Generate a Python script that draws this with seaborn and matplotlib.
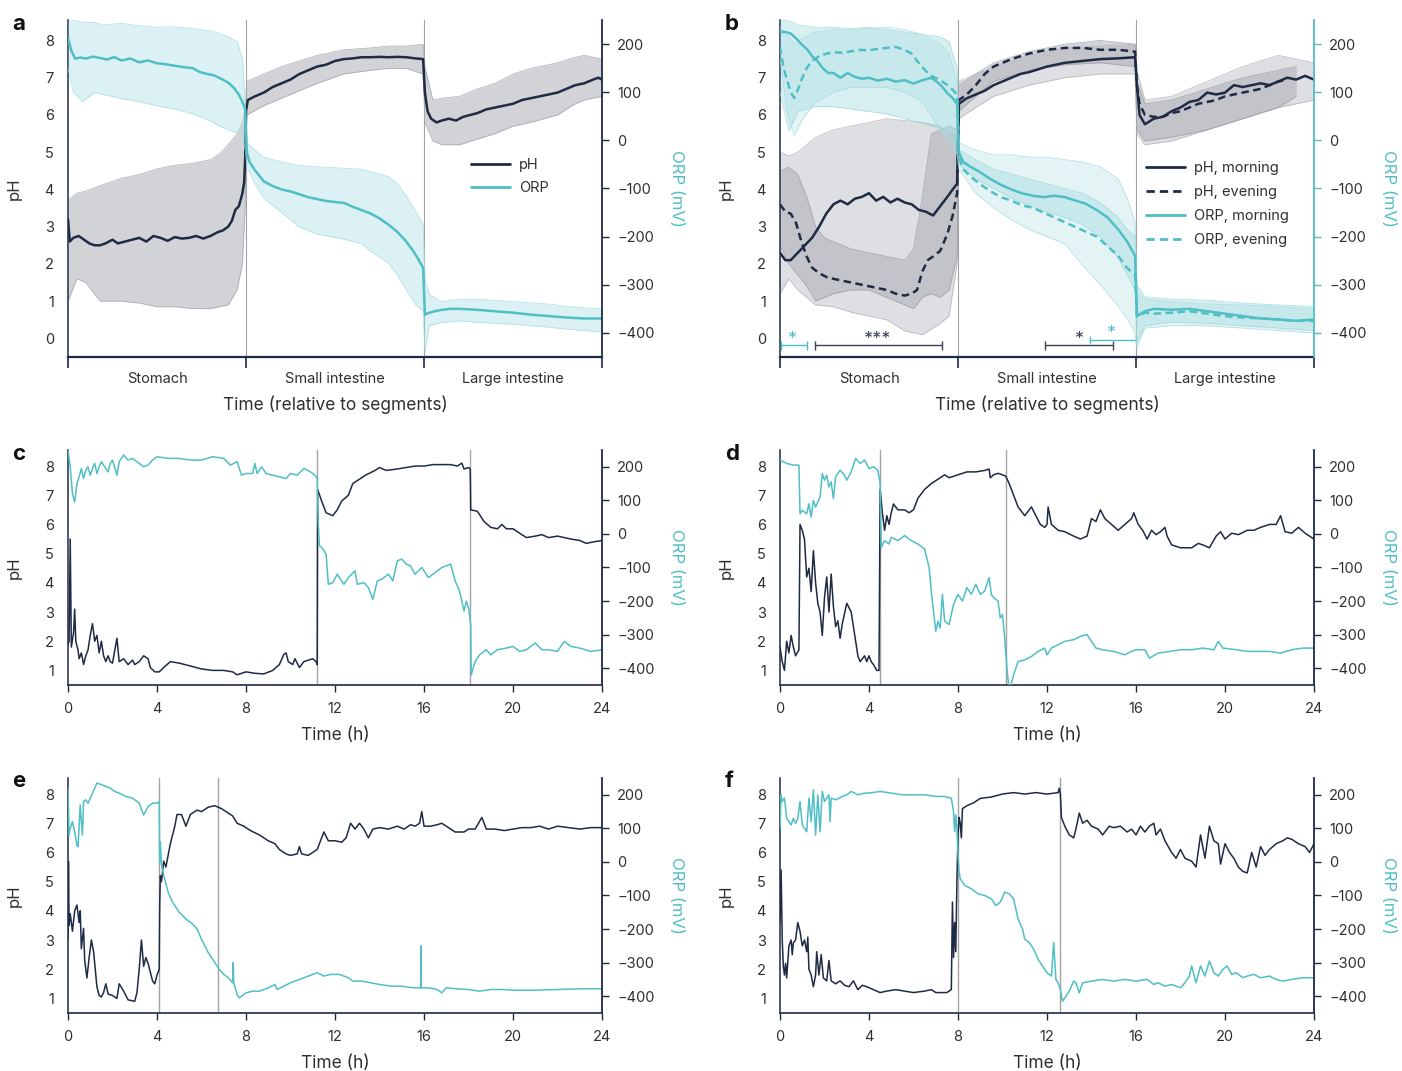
import matplotlib
matplotlib.use("Agg")
import matplotlib.pyplot as plt
import seaborn as sns
from matplotlib.lines import Line2D

sns.set_theme(style="white")
plt.rcParams["font.family"] = ["Inter", "DejaVu Sans"]

PH_C = "#1f2a44"
ORP_C = "#4fbfc5"
TXT = "#2f2f35"
SEP_C = "#a3a3a3"
DASH = (0, (3.0, 1.8))

SEGMENTS = ["Stomach", "Small intestine", "Large intestine"]
PANELS = ["a", "b", "c", "d", "e", "f"]

# ---------------- panel a ----------------
A_PH_X = [0, .01, .03, .06, .09, .12, .15, .18, .21, .25,
          .28, .32, .36, .40, .44, .48, .52, .56, .60, .64,
          .68, .72, .76, .80, .84, .87, .90, .92, .94, .96,
          .98, .99, .995, 1.0, 1.01, 1.05, 1.10, 1.15, 1.20, 1.25,
          1.30, 1.35, 1.40, 1.45, 1.50, 1.55, 1.60, 1.65, 1.70, 1.75,
          1.80, 1.85, 1.90, 1.95, 1.995, 2.005, 2.02, 2.04, 2.07, 2.10,
          2.14, 2.18, 2.22, 2.26, 2.30, 2.35, 2.40, 2.45, 2.50, 2.55,
          2.60, 2.65, 2.70, 2.75, 2.80, 2.85, 2.90, 2.95, 2.98, 3.0]
A_PH_Y = [3.2, 2.6, 2.7, 2.75, 2.65, 2.55, 2.5, 2.5, 2.55, 2.65,
          2.55, 2.6, 2.65, 2.7, 2.6, 2.75, 2.7, 2.62, 2.72, 2.68,
          2.7, 2.75, 2.68, 2.75, 2.85, 2.9, 3.0, 3.15, 3.45, 3.55,
          3.9, 4.2, 4.8, 6.1, 6.4, 6.5, 6.6, 6.75, 6.85, 6.95,
          7.1, 7.2, 7.3, 7.35, 7.45, 7.5, 7.52, 7.55, 7.55, 7.56,
          7.55, 7.56, 7.55, 7.52, 7.5, 6.6, 6.1, 5.9, 5.8, 5.85,
          5.9, 5.85, 5.95, 6.0, 6.05, 6.15, 6.2, 6.25, 6.3, 6.4,
          6.45, 6.5, 6.55, 6.6, 6.7, 6.8, 6.85, 6.95, 7.0, 6.95]
A_PHB_X = [0, .05, .10, .18, .30, .40, .50, .60, .70, .80,
           .85, .90, .95, .98, .995, 1.005, 1.10, 1.20, 1.30, 1.40,
           1.55, 1.70, 1.80, 1.90, 1.995, 2.005, 2.05, 2.10, 2.20, 2.30,
           2.40, 2.50, 2.60, 2.75, 2.85, 2.90, 3.0]
A_PHB_HI = [3.7, 3.9, 3.95, 4.1, 4.3, 4.4, 4.55, 4.65, 4.7, 4.8,
            4.95, 5.2, 5.5, 5.8, 6.2, 6.9, 7.1, 7.3, 7.45, 7.6,
            7.75, 7.8, 7.85, 7.85, 7.9, 7.3, 6.4, 6.45, 6.5, 6.7,
            6.85, 7.1, 7.25, 7.4, 7.55, 7.6, 7.5]
A_PHB_LO = [1.0, 1.6, 1.5, 1.0, 1.0, 0.95, 0.85, 0.85, 0.8, 0.8,
            0.85, 0.9, 1.3, 2.0, 3.5, 6.0, 6.25, 6.45, 6.65, 6.85,
            7.1, 7.2, 7.25, 7.25, 7.1, 5.8, 5.3, 5.2, 5.2, 5.35,
            5.5, 5.7, 5.8, 6.0, 6.3, 6.4, 6.5]
A_ORP_X = [0, .02, .04, .07, .10, .14, .18, .22, .26, .30,
           .35, .40, .45, .50, .55, .60, .65, .70, .74, .78,
           .82, .86, .90, .93, .96, .98, .995, 1.0, 1.005, 1.02,
           1.05, 1.10, 1.15, 1.20, 1.25, 1.30, 1.35, 1.40, 1.45, 1.50,
           1.55, 1.60, 1.65, 1.70, 1.75, 1.80, 1.85, 1.90, 1.94, 1.97,
           1.995, 2.005, 2.03, 2.06, 2.10, 2.15, 2.20, 2.30, 2.40, 2.50,
           2.60, 2.70, 2.80, 2.90, 2.95, 3.0]
A_ORP_Y = [213, 185, 170, 172, 170, 174, 171, 168, 173, 166,
           170, 162, 166, 160, 158, 155, 152, 150, 142, 138,
           135, 128, 120, 110, 95, 80, 65, 20, -25, -45,
           -62, -85, -95, -102, -106, -112, -118, -122, -126, -128,
           -130, -138, -145, -152, -162, -175, -190, -210, -230, -248,
           -265, -362, -358, -355, -352, -350, -350, -352, -355, -358,
           -362, -365, -368, -370, -370, -370]
A_ORPB_X = [0, .03, .08, .15, .20, .30, .40, .50, .60, .70,
            .75, .80, .85, .90, .95, .98, .995, 1.005, 1.05, 1.10,
            1.20, 1.30, 1.40, 1.55, 1.65, 1.70, 1.80, 1.85, 1.90, 1.95,
            1.995, 2.005, 2.03, 2.10, 2.20, 2.30, 2.50, 2.70, 2.80, 2.90,
            3.0]
A_ORPB_HI = [252, 250, 245, 245, 240, 243, 238, 235, 236, 232,
             230, 228, 222, 215, 205, 170, 80, -5, -20, -35,
             -45, -52, -55, -58, -60, -65, -75, -90, -115, -145,
             -175, -290, -320, -335, -330, -330, -335, -340, -345, -348,
             -350]
A_ORPB_LO = [150, 100, 80, 100, 95, 87, 80, 72, 65, 55,
             48, 40, 30, 22, 15, 10, -20, -55, -90, -120,
             -150, -180, -195, -205, -215, -230, -255, -280, -310, -340,
             -355, -440, -385, -378, -375, -378, -382, -388, -392, -395,
             -398]

# ---------------- panel b ----------------
B_PHM_X = [0, .03, .06, .1, .14, .18, .22, .26, .3, .34,
           .38, .42, .46, .5, .54, .58, .62, .66, .7, .74,
           .78, .82, .86, .9, .94, .97, .995, 1.005, 1.05, 1.1,
           1.15, 1.2, 1.25, 1.3, 1.35, 1.4, 1.5, 1.6, 1.7, 1.8,
           1.9, 1.995, 2.005, 2.02, 2.05, 2.1, 2.15, 2.2, 2.25, 2.3,
           2.35, 2.4, 2.45, 2.5, 2.55, 2.6, 2.65, 2.7, 2.75, 2.8,
           2.85, 2.9, 2.95, 3.0]
B_PHM_Y = [2.3, 2.1, 2.1, 2.3, 2.5, 2.7, 3.0, 3.35, 3.6, 3.7,
           3.6, 3.75, 3.8, 3.9, 3.7, 3.8, 3.65, 3.75, 3.65, 3.6,
           3.45, 3.4, 3.3, 3.55, 3.8, 4.0, 4.15, 6.3, 6.45, 6.55,
           6.65, 6.8, 6.9, 7.0, 7.1, 7.15, 7.3, 7.4, 7.45, 7.5,
           7.52, 7.55, 6.8, 6.0, 5.75, 5.9, 5.95, 6.1, 6.2, 6.35,
           6.4, 6.6, 6.55, 6.6, 6.8, 6.75, 6.8, 6.85, 6.8, 6.9,
           7.0, 6.95, 7.05, 6.95]
B_PHE_X = [0, .03, .06, .09, .12, .15, .18, .22, .26, .3,
           .35, .4, .45, .5, .55, .6, .65, .7, .74, .77,
           .8, .83, .86, .9, .94, .97, .995, 1.005, 1.05, 1.1,
           1.15, 1.2, 1.3, 1.4, 1.5, 1.6, 1.7, 1.8, 1.9, 1.995,
           2.005, 2.02, 2.05, 2.1, 2.15, 2.2, 2.25, 2.3, 2.35, 2.4,
           2.45, 2.5, 2.55, 2.6, 2.65, 2.7, 2.75, 2.8, 2.85]
B_PHE_Y = [3.6, 3.4, 3.35, 3.1, 2.6, 2.2, 1.9, 1.75, 1.65, 1.6,
           1.55, 1.5, 1.45, 1.4, 1.35, 1.3, 1.2, 1.15, 1.2, 1.3,
           1.8, 2.1, 2.2, 2.35, 2.8, 3.3, 3.9, 6.4, 6.55, 6.8,
           7.1, 7.3, 7.5, 7.65, 7.75, 7.8, 7.8, 7.75, 7.75, 7.7,
           6.8, 6.3, 6.0, 5.95, 5.95, 6.05, 6.1, 6.2, 6.3, 6.35,
           6.4, 6.5, 6.55, 6.6, 6.65, 6.7, 6.8, 6.9, 6.95]
B_PHBM_X = [0, .05, .1, .2, .3, .4, .5, .6, .7, .8, .9, .95, .995,
            1.005, 1.1, 1.2, 1.4, 1.6, 1.8, 1.995,
            2.005, 2.05, 2.2, 2.4, 2.6, 2.8, 3.0]
B_PHBM_HI = [5.0, 4.9, 5.0, 5.4, 5.6, 5.7, 5.8, 5.9, 5.85, 5.8, 5.7, 5.5, 5.5,
             6.9, 7.1, 7.3, 7.6, 7.8, 7.85, 7.9,
             7.2, 6.4, 6.5, 6.9, 7.3, 7.6, 7.4]
B_PHBM_LO = [1.2, 1.6, 1.3, 0.9, 0.85, 0.7, 0.6, 0.5, 0.2, 0.1, 0.4, 0.6, 2.0,
             5.9, 6.2, 6.5, 6.8, 7.0, 7.1, 7.1,
             5.5, 5.2, 5.3, 5.6, 5.9, 6.2, 6.4]
B_PHBE_X = [0, .05, .1, .15, .2, .25, .3, .4, .5, .6, .7, .75, .8, .85, .9, .95, .995,
            1.005, 1.1, 1.2, 1.4, 1.6, 1.8, 1.995,
            2.005, 2.05, 2.2, 2.4, 2.6, 2.8, 2.9]
B_PHBE_HI = [4.5, 4.6, 4.4, 3.8, 3.0, 2.7, 2.6, 2.4, 2.3, 2.2, 2.1, 2.4, 3.8, 5.5, 5.6, 5.7, 5.6,
             6.8, 7.1, 7.4, 7.7, 7.9, 8.0, 7.9,
             6.9, 6.3, 6.4, 6.7, 7.0, 7.2, 7.3]
B_PHBE_LO = [2.5, 2.0, 1.7, 1.4, 1.0, 1.1, 1.2, 1.3, 1.3, 1.1, 0.9, 0.8, 1.1, 1.2, 1.1, 1.3, 2.2,
             6.1, 6.5, 6.9, 7.2, 7.35, 7.4, 7.3,
             5.6, 5.3, 5.4, 5.6, 5.9, 6.2, 6.5]
B_ORPM_X = [0, .03, .06, .09, .12, .15, .18, .21, .24, .27,
            .3, .34, .38, .42, .46, .5, .55, .6, .65, .7,
            .75, .8, .85, .88, .91, .94, .97, .995, 1.005, 1.03,
            1.07, 1.12, 1.18, 1.24, 1.3, 1.36, 1.42, 1.48, 1.54, 1.6,
            1.66, 1.72, 1.78, 1.84, 1.9, 1.95, 1.995, 2.005, 2.05, 2.1,
            2.2, 2.3, 2.4, 2.5, 2.6, 2.7, 2.8, 2.9, 3.0]
B_ORPM_Y = [225, 225, 222, 212, 200, 190, 175, 165, 150, 140,
            140, 130, 140, 132, 128, 130, 124, 128, 122, 125,
            118, 125, 130, 122, 112, 98, 88, 75, -25, -45,
            -55, -65, -80, -92, -102, -110, -115, -118, -115, -118,
            -125, -132, -145, -160, -185, -210, -240, -365, -355, -350,
            -352, -350, -355, -360, -365, -370, -372, -375, -372]
B_ORPE_X = [0, .02, .04, .06, .08, .1, .12, .15, .18, .22,
            .26, .3, .35, .4, .45, .5, .55, .6, .65, .7,
            .74, .77, .8, .83, .86, .9, .94, .97, .995, 1.005,
            1.03, 1.07, 1.12, 1.18, 1.24, 1.3, 1.36, 1.42, 1.48, 1.54,
            1.6, 1.66, 1.72, 1.78, 1.84, 1.9, 1.95, 1.995, 2.005, 2.05,
            2.1, 2.2, 2.3, 2.4, 2.5, 2.6, 2.7, 2.8, 2.9, 3.0]
B_ORPE_Y = [195, 150, 125, 100, 88, 105, 125, 150, 165, 175,
            180, 183, 182, 185, 188, 187, 190, 192, 194, 188,
            180, 165, 152, 140, 132, 125, 115, 105, 95, -35,
            -60, -75, -90, -105, -118, -125, -135, -140, -150, -160,
            -170, -180, -190, -200, -220, -240, -265, -280, -365, -358,
            -360, -358, -355, -360, -365, -368, -370, -372, -375, -375]
B_ORPBM_X = [0, .05, .1, .2, .3, .4, .5, .6, .7, .8, .9, .95, .995,
             1.005, 1.1, 1.2, 1.3, 1.4, 1.5, 1.6, 1.7, 1.8, 1.9, 1.95, 1.995,
             2.005, 2.05, 2.2, 2.4, 2.6, 2.8, 3.0]
B_ORPBM_HI = [250, 248, 240, 235, 235, 232, 235, 230, 225, 220, 215, 205, 150,
              -20, -40, -60, -70, -80, -90, -100, -110, -130, -160, -185, -200,
              -300, -325, -330, -332, -338, -342, -345]
B_ORPBM_LO = [100, 20, 60, 70, 70, 65, 60, 55, 45, 35, 25, 15, -20,
              -50, -80, -100, -120, -135, -150, -160, -175, -200, -245, -280, -310,
              -420, -385, -378, -380, -385, -390, -395]
B_ORPBE_X = [0, .04, .08, .12, .2, .3, .4, .5, .6, .7, .8, .85, .9, .95, .995,
             1.005, 1.1, 1.2, 1.3, 1.4, 1.5, 1.6, 1.7, 1.8, 1.9, 1.95, 1.995,
             2.005, 2.05, 2.2, 2.4, 2.6, 2.8, 3.0]
B_ORPBE_HI = [235, 220, 200, 210, 225, 230, 230, 232, 235, 230, 220, 210, 200, 180, 120,
              -5, -20, -30, -30, -35, -35, -40, -45, -55, -80, -120, -170,
              -315, -330, -335, -340, -342, -345, -350]
B_ORPBE_LO = [170, 60, 10, 40, 80, 100, 110, 110, 110, 100, 80, 50, 20, 0, -30,
              -60, -110, -140, -165, -185, -200, -215, -260, -300, -345, -370, -400,
              -430, -390, -385, -385, -390, -395, -400]
# significance brackets (panel b), in segment / pH units
SIG_X0 = [0.005, 0.197, 1.49, 1.74]
SIG_X1 = [0.15, 0.91, 1.87, 2.0]
SIG_Y = [-0.19, -0.19, -0.19, -0.04]
SIG_KIND = ["orp", "ph", "ph", "orp"]
SIG_TXT = ["*", "***", "*", "*"]
SIG_TXT_X = [0.07, 0.55, 1.68, 1.86]

# ---------------- panel c ----------------
C_PH_T = [0, 0.05, 0.1, 0.15, 0.25, 0.3, 0.35, 0.45, 0.5, 0.6,
          0.7, 0.8, 0.9, 1.0, 1.1, 1.2, 1.3, 1.4, 1.5, 1.6,
          1.7, 1.8, 1.9, 2.0, 2.2, 2.3, 2.5, 2.7, 2.9, 3.0,
          3.2, 3.4, 3.6, 3.7, 3.9, 4.1, 4.3, 4.6, 5.0, 5.5,
          6.0, 6.5, 7.0, 7.4, 7.6, 7.8, 8.0, 8.4, 8.8, 9.2,
          9.5, 9.7, 9.8, 9.9, 10.1, 10.2, 10.4, 10.6, 10.8, 11.0,
          11.15, 11.2, 11.22, 11.4, 11.6, 11.9, 12.1, 12.3, 12.6, 12.8,
          13.0, 13.4, 13.8, 14.0, 14.3, 14.8, 15.2, 15.6, 16.0, 16.4,
          16.8, 17.2, 17.5, 17.7, 17.8, 18.0, 18.08, 18.1, 18.4, 18.7,
          19.0, 19.3, 19.5, 19.7, 20.0, 20.3, 20.6, 21.0, 21.3, 21.6,
          22.0, 22.3, 22.6, 23.0, 23.3, 23.6, 24.0]
C_PH_V = [1.9, 2.0, 5.5, 1.8, 2.3, 3.1, 2.0, 1.7, 1.4, 1.6,
          1.2, 1.5, 1.7, 2.2, 2.6, 2.0, 2.2, 1.6, 2.0, 1.5,
          1.3, 1.5, 1.3, 1.25, 2.1, 1.3, 1.4, 1.2, 1.35, 1.2,
          1.3, 1.5, 1.4, 1.1, 0.95, 0.95, 1.1, 1.3, 1.25, 1.15,
          1.05, 1.0, 1.0, 0.95, 0.85, 0.9, 0.95, 0.9, 0.88, 1.0,
          1.2, 1.55, 1.6, 1.3, 1.2, 1.4, 1.1, 1.3, 1.35, 1.4,
          1.3, 1.2, 7.2, 6.8, 6.4, 6.3, 6.5, 6.8, 7.0, 7.4,
          7.5, 7.7, 7.85, 7.95, 7.85, 7.9, 7.95, 8.0, 8.0, 8.05,
          8.05, 8.05, 8.0, 8.1, 7.9, 7.95, 7.9, 6.5, 6.45, 6.1,
          5.9, 5.85, 6.0, 5.85, 5.85, 5.7, 5.55, 5.6, 5.65, 5.55,
          5.6, 5.55, 5.5, 5.45, 5.35, 5.4, 5.45]
C_ORP_T = [0, 0.1, 0.2, 0.3, 0.4, 0.5, 0.6, 0.7, 0.8, 0.9,
           1.0, 1.1, 1.2, 1.3, 1.4, 1.5, 1.6, 1.8, 1.9, 2.0,
           2.2, 2.3, 2.5, 2.7, 2.9, 3.1, 3.4, 3.6, 3.8, 4.0,
           4.5, 5.0, 5.5, 6.0, 6.5, 7.0, 7.3, 7.6, 7.8, 8.0,
           8.3, 8.4, 8.5, 8.7, 8.9, 9.2, 9.5, 9.8, 10.0, 10.3,
           10.6, 10.9, 11.1, 11.2, 11.25, 11.3, 11.4, 11.6, 11.7, 11.9,
           12.1, 12.4, 12.6, 12.9, 13.0, 13.3, 13.5, 13.7, 13.9, 14.1,
           14.4, 14.6, 14.8, 15.0, 15.2, 15.4, 15.6, 15.9, 16.2, 16.5,
           16.8, 17.2, 17.4, 17.6, 17.8, 17.9, 18.0, 18.1, 18.12, 18.3,
           18.5, 18.8, 19.0, 19.3, 19.7, 20.0, 20.3, 20.6, 21.0, 21.3,
           21.6, 22.0, 22.3, 22.6, 23.0, 23.5, 24.0]
C_ORP_V = [250, 200, 120, 95, 150, 170, 195, 165, 190, 200,
           175, 195, 210, 180, 200, 215, 205, 185, 210, 220,
           175, 215, 235, 220, 225, 215, 200, 205, 220, 230,
           225, 225, 220, 220, 230, 225, 205, 215, 175, 180,
           180, 210, 180, 200, 180, 175, 170, 165, 180, 175,
           195, 185, 175, 165, 30, -35, -40, -60, -150, -145,
           -120, -150, -130, -110, -150, -145, -160, -195, -140, -135,
           -120, -140, -80, -75, -90, -95, -120, -100, -130, -115,
           -100, -90, -140, -170, -230, -200, -220, -270, -420, -380,
           -360, -345, -360, -345, -340, -335, -350, -345, -325, -345,
           -345, -350, -320, -335, -340, -350, -345]
C_SEP = [11.2, 18.08]

# ---------------- panel d ----------------
D_PH_T = [0, 0.1, 0.2, 0.3, 0.4, 0.5, 0.6, 0.7, 0.85, 0.9,
          1.0, 1.1, 1.2, 1.3, 1.4, 1.5, 1.6, 1.7, 1.8, 1.9,
          2.0, 2.1, 2.2, 2.3, 2.4, 2.5, 2.6, 2.7, 2.8, 3.0,
          3.2, 3.3, 3.4, 3.5, 3.6, 3.8, 3.9, 4.0, 4.1, 4.2,
          4.35, 4.45, 4.5, 4.6, 4.7, 4.8, 4.9, 5.0, 5.1, 5.3,
          5.6, 5.8, 6.0, 6.2, 6.5, 6.8, 7.0, 7.2, 7.4, 7.6,
          8.0, 8.4, 8.8, 9.2, 9.4, 9.45, 9.6, 9.8, 10.0, 10.15,
          10.3, 10.5, 10.7, 11.0, 11.2, 11.3, 11.5, 11.7, 11.9, 12.0,
          12.05, 12.2, 12.5, 12.8, 13.2, 13.5, 13.8, 14.0, 14.2, 14.4,
          14.6, 14.9, 15.2, 15.5, 15.8, 15.9, 16.1, 16.3, 16.5, 16.7,
          16.9, 17.1, 17.3, 17.4, 17.6, 18.0, 18.5, 18.8, 19.0, 19.3,
          19.6, 19.8, 20.0, 20.3, 20.6, 21.0, 21.3, 21.6, 22.0, 22.3,
          22.5, 22.7, 23.0, 23.3, 23.6, 24.0]
D_PH_V = [1.8, 1.3, 1.0, 2.0, 1.6, 2.2, 1.8, 1.5, 1.7, 6.0,
          5.8, 5.5, 4.2, 4.5, 3.7, 5.1, 4.0, 3.3, 3.0, 2.2,
          3.5, 4.2, 3.0, 4.3, 3.2, 2.5, 2.7, 2.1, 2.6, 3.3,
          3.0, 2.5, 2.0, 1.5, 1.3, 1.5, 1.3, 1.5, 1.3, 1.2,
          1.0, 1.0, 7.2, 6.4, 5.8, 6.3, 6.0, 6.4, 6.7, 6.5,
          6.5, 6.4, 6.5, 6.9, 7.2, 7.4, 7.5, 7.6, 7.7, 7.6,
          7.7, 7.8, 7.8, 7.85, 7.9, 7.6, 7.7, 7.75, 7.7, 7.65,
          7.4, 7.0, 6.6, 6.3, 6.5, 6.6, 6.3, 6.0, 5.9, 6.0,
          6.6, 6.0, 5.8, 5.75, 5.6, 5.5, 5.6, 6.2, 6.1, 6.5,
          6.2, 6.0, 5.8, 6.0, 6.2, 6.4, 6.0, 5.8, 5.5, 5.8,
          5.65, 5.75, 5.9, 5.6, 5.3, 5.2, 5.2, 5.35, 5.3, 5.2,
          5.6, 5.75, 5.5, 5.7, 5.65, 5.8, 5.8, 5.9, 6.0, 6.0,
          6.3, 5.75, 5.7, 5.9, 5.7, 5.5]
D_ORP_T = [0, 0.3, 0.6, 0.85, 0.9, 1.0, 1.2, 1.3, 1.4, 1.5,
           1.6, 1.8, 1.9, 2.0, 2.1, 2.2, 2.3, 2.4, 2.5, 2.7,
           2.9, 3.0, 3.2, 3.4, 3.6, 3.8, 4.0, 4.2, 4.4, 4.5,
           4.55, 4.7, 4.9, 5.0, 5.3, 5.6, 5.9, 6.2, 6.5, 6.7,
           6.8, 6.9, 7.0, 7.1, 7.2, 7.3, 7.4, 7.6, 7.8, 8.0,
           8.2, 8.4, 8.6, 8.8, 9.0, 9.2, 9.4, 9.5, 9.6, 9.8,
           9.9, 10.0, 10.1, 10.2, 10.3, 10.5, 10.7, 11.0, 11.3, 11.6,
           11.9, 12.0, 12.2, 12.5, 12.8, 13.2, 13.5, 13.8, 14.0, 14.2,
           14.5, 15.0, 15.5, 15.8, 16.0, 16.4, 16.6, 17.0, 17.5, 18.0,
           18.5, 19.0, 19.5, 19.7, 19.9, 20.5, 21.0, 21.5, 22.0, 22.5,
           23.0, 23.5, 24.0]
D_ORP_V = [220, 210, 205, 205, 60, 70, 60, 90, 50, 100,
           80, 110, 180, 160, 175, 140, 155, 105, 170, 190,
           175, 160, 185, 225, 210, 220, 195, 200, 190, 150,
           -40, -20, -30, -10, -20, -5, -20, -30, -45, -100,
           -170, -230, -290, -260, -280, -180, -260, -270, -210, -180,
           -200, -160, -180, -150, -180, -170, -130, -180, -190, -200,
           -250, -240, -310, -400, -470, -420, -380, -375, -365, -350,
           -340, -360, -340, -330, -320, -315, -305, -300, -320, -340,
           -345, -350, -360, -350, -345, -345, -370, -355, -350, -345,
           -345, -340, -345, -320, -340, -345, -350, -350, -350, -355,
           -345, -340, -340]
D_SEP = [4.49, 10.14]

# ---------------- panel e ----------------
E_PH_T = [0, 0.02, 0.05, 0.1, 0.2, 0.3, 0.4, 0.5, 0.55, 0.6,
          0.7, 0.75, 0.85, 0.95, 1.05, 1.15, 1.3, 1.4, 1.5, 1.6,
          1.7, 1.8, 2.0, 2.2, 2.3, 2.5, 2.7, 3.0, 3.1, 3.2,
          3.3, 3.4, 3.5, 3.6, 3.8, 3.9, 4.0, 4.1, 4.12, 4.15,
          4.2, 4.3, 4.4, 4.5, 4.6, 4.7, 4.8, 4.9, 5.1, 5.3,
          5.5, 5.8, 6.0, 6.3, 6.6, 6.9, 7.2, 7.4, 7.6, 7.9,
          8.2, 8.6, 9.0, 9.3, 9.5, 9.8, 10.0, 10.3, 10.4, 10.5,
          10.8, 11.0, 11.2, 11.4, 11.5, 11.7, 12.0, 12.3, 12.5, 12.7,
          12.9, 13.1, 13.3, 13.5, 13.7, 14.0, 14.4, 14.8, 15.1, 15.4,
          15.6, 15.8, 15.9, 16.0, 16.3, 16.6, 16.8, 17.0, 17.4, 17.8,
          18.0, 18.3, 18.6, 18.8, 19.2, 19.6, 20.0, 20.4, 20.8, 21.2,
          21.6, 22.0, 22.5, 23.0, 23.5, 24.0]
E_PH_V = [3.0, 5.7, 3.5, 3.9, 3.3, 4.0, 4.2, 3.6, 4.0, 2.7,
          3.4, 2.3, 1.7, 2.4, 3.0, 2.6, 1.4, 1.1, 1.05, 1.2,
          1.5, 1.15, 1.1, 1.0, 1.5, 1.25, 0.95, 0.9, 1.2, 2.0,
          3.0, 2.1, 2.4, 2.2, 1.6, 1.5, 1.8, 2.0, 4.1, 5.2,
          5.0, 5.7, 5.5, 5.9, 6.3, 6.6, 6.9, 7.3, 7.3, 6.9,
          7.3, 7.45, 7.4, 7.55, 7.6, 7.5, 7.35, 7.25, 7.0, 6.9,
          6.75, 6.6, 6.4, 6.3, 6.1, 5.95, 5.9, 5.95, 6.2, 5.95,
          5.9, 6.0, 6.1, 6.5, 6.7, 6.4, 6.4, 6.35, 6.5, 7.0,
          6.8, 7.0, 6.8, 6.5, 6.8, 6.85, 6.8, 6.9, 6.8, 6.95,
          6.9, 7.0, 7.4, 6.9, 6.9, 6.95, 7.0, 6.9, 6.7, 6.7,
          6.8, 6.8, 7.2, 6.8, 6.8, 6.75, 6.8, 6.85, 6.85, 6.9,
          6.8, 6.9, 6.85, 6.8, 6.85, 6.85]
E_ORP_T = [0, 0.05, 0.1, 0.2, 0.3, 0.4, 0.45, 0.55, 0.6, 0.65,
           0.7, 0.8, 0.9, 1.1, 1.3, 1.5, 1.7, 1.9, 2.1, 2.3,
           2.6, 2.9, 3.2, 3.4, 3.6, 3.8, 4.0, 4.1, 4.12, 4.15,
           4.2, 4.3, 4.5, 4.7, 5.0, 5.3, 5.6, 5.8, 6.0, 6.3,
           6.6, 6.8, 7.0, 7.2, 7.4, 7.42, 7.45, 7.6, 7.7, 8.0,
           8.3, 8.6, 9.0, 9.3, 9.4, 9.7, 10.0, 10.4, 10.8, 11.2,
           11.5, 11.8, 12.2, 12.6, 12.8, 13.2, 13.6, 14.0, 14.5, 15.0,
           15.5, 15.85, 15.86, 15.87, 16.2, 16.6, 16.8, 17.0, 17.5, 18.0,
           18.5, 19.0, 19.5, 20.0, 21.0, 22.0, 23.0, 24.0]
E_ORP_V = [220, 80, 100, 120, 90, 50, 45, 170, 120, 80,
           180, 185, 175, 205, 235, 230, 225, 220, 210, 205,
           195, 190, 175, 140, 165, 175, 175, 180, 0, 60,
           -10, -40, -90, -120, -150, -170, -185, -200, -230, -270,
           -300, -320, -335, -345, -360, -300, -360, -395, -405, -390,
           -385, -385, -375, -365, -380, -370, -360, -350, -340, -330,
           -340, -335, -335, -345, -355, -355, -360, -365, -370, -370,
           -375, -375, -250, -375, -375, -380, -390, -375, -378, -380,
           -385, -380, -380, -382, -382, -380, -378, -378]
E_SEP = [4.11, 6.75]

# ---------------- panel f ----------------
F_PH_T = [0, 0.05, 0.1, 0.15, 0.2, 0.25, 0.3, 0.4, 0.5, 0.55,
          0.6, 0.7, 0.8, 0.9, 1.0, 1.1, 1.2, 1.25, 1.3, 1.4,
          1.5, 1.6, 1.65, 1.75, 1.85, 1.95, 2.1, 2.2, 2.3, 2.5,
          2.7, 2.9, 3.1, 3.3, 3.5, 3.7, 3.9, 4.2, 4.5, 4.8,
          5.2, 5.6, 6.0, 6.5, 6.8, 7.0, 7.5, 7.7, 7.75, 7.8,
          7.85, 7.9, 7.95, 8.0, 8.05, 8.1, 8.15, 8.2, 8.4, 8.7,
          9.0, 9.5, 10.0, 10.5, 11.0, 11.5, 12.0, 12.5, 12.55, 12.6,
          12.65, 12.8, 13.0, 13.2, 13.3, 13.45, 13.6, 13.8, 14.0, 14.3,
          14.5, 14.8, 15.0, 15.3, 15.6, 15.8, 16.0, 16.2, 16.4, 16.6,
          16.8, 16.9, 17.1, 17.3, 17.6, 17.8, 18.0, 18.2, 18.5, 18.7,
          18.9, 19.1, 19.3, 19.5, 19.7, 19.8, 20.0, 20.2, 20.4, 20.6,
          20.8, 21.0, 21.2, 21.4, 21.6, 21.8, 22.0, 22.3, 22.6, 22.8,
          23.0, 23.3, 23.6, 23.8, 24.0]
F_PH_V = [3.6, 5.4, 3.0, 2.1, 1.8, 2.2, 1.7, 2.8, 3.0, 2.5,
          2.9, 3.0, 3.6, 3.3, 2.8, 3.0, 2.6, 3.1, 2.0, 1.8,
          1.4, 1.8, 2.6, 1.8, 2.5, 1.7, 1.6, 2.3, 1.6, 1.5,
          1.6, 1.45, 1.4, 1.6, 1.3, 1.45, 1.4, 1.3, 1.2, 1.25,
          1.3, 1.25, 1.2, 1.25, 1.3, 1.2, 1.2, 1.3, 4.3, 2.4,
          3.6, 2.6, 5.0, 6.6, 7.2, 7.0, 6.5, 7.5, 7.6, 7.7,
          7.85, 7.9, 8.0, 8.05, 8.0, 8.05, 8.0, 8.05, 8.2, 8.0,
          7.2, 6.9, 6.6, 6.5, 6.8, 7.35, 7.0, 7.1, 6.9, 6.8,
          6.6, 6.9, 6.85, 6.9, 6.7, 6.8, 6.6, 6.9, 6.7, 6.9,
          7.0, 6.6, 6.8, 6.4, 6.0, 5.8, 6.1, 5.8, 5.7, 5.5,
          6.6, 5.8, 6.9, 6.4, 6.3, 5.6, 6.3, 6.0, 5.8, 5.5,
          5.35, 5.3, 6.0, 5.5, 6.2, 5.9, 6.1, 6.3, 6.4, 6.5,
          6.45, 6.3, 6.2, 6.0, 6.3]
F_ORP_T = [0, 0.05, 0.1, 0.2, 0.3, 0.4, 0.5, 0.6, 0.7, 0.8,
           0.9, 1.0, 1.1, 1.2, 1.3, 1.4, 1.5, 1.6, 1.7, 1.8,
           1.9, 2.0, 2.1, 2.2, 2.25, 2.3, 2.5, 2.8, 3.0, 3.2,
           3.5, 3.8, 4.0, 4.5, 5.0, 5.5, 6.0, 6.5, 7.0, 7.4,
           7.7, 7.8, 7.85, 7.9, 7.95, 8.0, 8.05, 8.1, 8.3, 8.6,
           8.9, 9.2, 9.5, 9.7, 9.9, 10.1, 10.3, 10.5, 10.7, 10.9,
           11.0, 11.2, 11.4, 11.6, 11.8, 12.0, 12.2, 12.3, 12.4, 12.5,
           12.6, 12.7, 12.9, 13.0, 13.2, 13.3, 13.45, 13.6, 14.0, 14.5,
           15.0, 15.5, 16.0, 16.5, 16.8, 17.0, 17.3, 17.6, 18.0, 18.2,
           18.4, 18.5, 18.7, 18.9, 19.1, 19.3, 19.5, 19.7, 19.9, 20.1,
           20.3, 20.5, 20.8, 21.0, 21.3, 21.6, 22.0, 22.3, 22.6, 23.0,
           23.5, 24.0]
F_ORP_V = [100, 200, 180, 190, 130, 120, 110, 130, 115, 130,
           180, 110, 100, 90, 190, 120, 215, 80, 200, 90,
           210, 180, 190, 200, 120, 190, 185, 195, 200, 210,
           200, 205, 205, 210, 205, 200, 200, 200, 195, 195,
           190, 150, 90, 140, 100, 20, -30, -50, -70, -80,
           -95, -100, -110, -130, -120, -90, -95, -110, -170, -200,
           -230, -240, -260, -290, -310, -330, -340, -240, -350, -360,
           -380, -415, -395, -385, -355, -360, -390, -360, -355, -350,
           -355, -350, -355, -350, -365, -360, -370, -365, -375, -360,
           -340, -310, -360, -310, -340, -295, -330, -340, -320, -310,
           -335, -330, -345, -340, -335, -345, -340, -350, -355, -350,
           -345, -345]
F_SEP = [7.99, 12.6]

PH_TICKS_AB = [0, 1, 2, 3, 4, 5, 6, 7, 8]
PH_TICKS_CF = [1, 2, 3, 4, 5, 6, 7, 8]
ORP_TICKS = [-400, -300, -200, -100, 0, 100, 200]
TIME_TICKS = [0, 4, 8, 12, 16, 20, 24]

# ---------------- figure ----------------
W, H = 1402, 1071
fig = plt.figure(figsize=(W / 100, H / 100), dpi=100)


def axrect(x0, x1, ytop, ybot):
    return [x0 / W, 1 - ybot / H, (x1 - x0) / W, (ybot - ytop) / H]


def line(ax, x, y, color, lw, ls="-"):
    sns.lineplot(x=x, y=y, ax=ax, color=color, linewidth=lw, linestyle=ls,
                 estimator=None, sort=False, legend=False)


def band(ax, x, lo, hi, color, alpha, edge):
    ax.fill_between(x, lo, hi, color=color, alpha=alpha, linewidth=0)
    ax.plot(x, lo, color=edge, lw=0.6, alpha=0.8)
    ax.plot(x, hi, color=edge, lw=0.6, alpha=0.8)


def style(ax, ax2, right_color, ph_lim, ph_ticks, ph_lab_x, orp_lab_x):
    ax.set_facecolor("white")
    for s in ["top", "right"]:
        ax.spines[s].set_visible(False)
    ax.spines["left"].set_color(PH_C)
    ax.spines["left"].set_linewidth(1.1)
    for s in ["top", "left", "bottom"]:
        ax2.spines[s].set_visible(False)
    ax2.spines["right"].set_color(right_color)
    ax2.spines["right"].set_linewidth(1.3)
    ax.set_ylim(*ph_lim)
    ax.set_yticks(ph_ticks)
    ax2.set_ylim(-450, 250)
    ax2.set_yticks(ORP_TICKS)
    ax2.set_yticklabels([str(v).replace("-", "\u2212") for v in ORP_TICKS])
    ax.tick_params(axis="y", left=True, length=0, pad=10, labelsize=10.5,
                   labelcolor=TXT)
    ax2.tick_params(axis="y", right=True, length=5, width=1, color=right_color,
                    pad=6, labelsize=10.5, labelcolor=TXT)
    ax.set_ylabel("pH", fontsize=12, color=TXT)
    ax.yaxis.set_label_coords(ph_lab_x, 0.5)
    ax2.set_ylabel("ORP (mV)", fontsize=12, color=ORP_C, rotation=270,
                   va="center")
    ax2.yaxis.set_label_coords(orp_lab_x, 0.5)
    ax.grid(False)
    ax2.grid(False)


# ---------- panels a and b ----------
rect_a = axrect(68, 602, 20, 357)
rect_b = axrect(780, 1314, 20, 357)


def seg_axes(rect, right_color):
    ax = fig.add_axes(rect)
    ax2 = ax.twinx()
    style(ax, ax2, right_color, (-0.5, 8.55), PH_TICKS_AB, -0.086, 1.14)
    ax.set_xlim(0, 3)
    ax.spines["bottom"].set_color(PH_C)
    ax.spines["bottom"].set_linewidth(1.6)
    ax.set_xticks([0, 1, 2, 3])
    ax.set_xticklabels([])
    ax.set_xticks([0.5, 1.5, 2.5], minor=True)
    ax.set_xticklabels(SEGMENTS, minor=True)
    ax.tick_params(axis="x", which="major", bottom=True, length=8, width=1.2,
                   color=PH_C)
    ax.tick_params(axis="x", which="minor", bottom=True, length=0, pad=11,
                   labelsize=10.5, labelcolor=TXT)
    ax.set_xlabel("Time (relative to segments)", fontsize=12.5, color=TXT)
    ax.xaxis.set_label_coords(0.5, -0.115)
    for xs in [1, 2]:
        ax.axvline(xs, color=SEP_C, lw=0.8, zorder=0.5)
    return ax, ax2


ax_a, ax_a2 = seg_axes(rect_a, PH_C)
band(ax_a, A_PHB_X, A_PHB_LO, A_PHB_HI, "#b4b6bd", 0.6, "#a3a5ad")
line(ax_a, A_PH_X, A_PH_Y, PH_C, 1.8)
band(ax_a2, A_ORPB_X, A_ORPB_LO, A_ORPB_HI, "#a6dde1", 0.4, "#a6dde1")
line(ax_a2, A_ORP_X, A_ORP_Y, ORP_C, 1.8)
ax_a2.set_ylim(-450, 250)
ax_a.set_ylim(-0.5, 8.55)
ax_a.set_xlim(0, 3)
leg_a = [Line2D([0], [0], color=PH_C, lw=2), Line2D([0], [0], color=ORP_C, lw=2)]
ax_a2.legend(leg_a, ["pH", "ORP"], loc="upper left", bbox_to_anchor=(0.73, 0.63),
             frameon=False, fontsize=10.5, handlelength=2.7, labelspacing=0.65,
             handletextpad=0.6, labelcolor=TXT)

ax_b, ax_b2 = seg_axes(rect_b, ORP_C)
band(ax_b, B_PHBM_X, B_PHBM_LO, B_PHBM_HI, "#c3c5cb", 0.55, "#b0b2b9")
band(ax_b, B_PHBE_X, B_PHBE_LO, B_PHBE_HI, "#a9abb3", 0.5, "#9c9ea6")
line(ax_b, B_PHM_X, B_PHM_Y, PH_C, 1.8)
line(ax_b, B_PHE_X, B_PHE_Y, PH_C, 1.8, DASH)
for x0, x1, y, kind, txt, tx in zip(SIG_X0, SIG_X1, SIG_Y, SIG_KIND, SIG_TXT,
                                    SIG_TXT_X):
    col = ORP_C if kind == "orp" else "#3d4257"
    ax_b.hlines(y, x0, x1, color=col, lw=1.0, zorder=5)
    ax_b.vlines([x0, x1], y - 0.11, y + 0.11, color=col, lw=1.0, zorder=5)
    ax_b.text(tx, y + 0.05, txt, color=col, fontsize=13, ha="center",
              va="baseline", zorder=5)
band(ax_b2, B_ORPBM_X, B_ORPBM_LO, B_ORPBM_HI, "#8fd3d8", 0.35, "#9fd9dd")
band(ax_b2, B_ORPBE_X, B_ORPBE_LO, B_ORPBE_HI, "#a6dde1", 0.3, "#a6dde1")
line(ax_b2, B_ORPM_X, B_ORPM_Y, ORP_C, 1.8)
line(ax_b2, B_ORPE_X, B_ORPE_Y, ORP_C, 1.8, DASH)
ax_b2.set_ylim(-450, 250)
ax_b.set_ylim(-0.5, 8.55)
ax_b.set_xlim(0, 3)
leg_b = [Line2D([0], [0], color=PH_C, lw=2),
         Line2D([0], [0], color=PH_C, lw=2, ls=DASH),
         Line2D([0], [0], color=ORP_C, lw=2),
         Line2D([0], [0], color=ORP_C, lw=2, ls=DASH)]
ax_b2.legend(leg_b, ["pH, morning", "pH, evening", "ORP, morning", "ORP, evening"],
             loc="upper left", bbox_to_anchor=(0.66, 0.62), frameon=False,
             fontsize=10.5, handlelength=2.7, labelspacing=0.68,
             handletextpad=0.6, labelcolor=TXT)

# ---------- panels c-f ----------
TS = [
    ("c", axrect(68, 602, 450, 685), C_PH_T, C_PH_V, C_ORP_T, C_ORP_V, C_SEP),
    ("d", axrect(780, 1314, 450, 685), D_PH_T, D_PH_V, D_ORP_T, D_ORP_V, D_SEP),
    ("e", axrect(68, 602, 778, 1013), E_PH_T, E_PH_V, E_ORP_T, E_ORP_V, E_SEP),
    ("f", axrect(780, 1314, 778, 1013), F_PH_T, F_PH_V, F_ORP_T, F_ORP_V, F_SEP),
]
for name, rect, pt, pv, ot, ov, seps in TS:
    ax = fig.add_axes(rect)
    ax2 = ax.twinx()
    style(ax, ax2, PH_C, (0.5, 8.55), PH_TICKS_CF, -0.086, 1.14)
    for xs in seps:
        ax.axvline(xs, color=SEP_C, lw=1.0, zorder=0.5)
    line(ax, pt, pv, PH_C, 1.1)
    line(ax2, ot, ov, ORP_C, 1.1)
    ax.set_xlim(0, 24)
    ax.set_ylim(0.5, 8.55)
    ax2.set_ylim(-450, 250)
    ax.set_xticks(TIME_TICKS)
    ax.spines["bottom"].set_color(PH_C)
    ax.spines["bottom"].set_linewidth(1.2)
    ax.tick_params(axis="x", bottom=True, length=5, width=1, color=PH_C, pad=7,
                   labelsize=10.5, labelcolor=TXT)
    ax.set_xlabel("Time (h)", fontsize=12.5, color=TXT)
    ax.xaxis.set_label_coords(0.5, -0.18)

# panel letters
LETTER_POS = {"a": (12, 14), "b": (725, 14), "c": (12, 444), "d": (725, 444),
              "e": (12, 771), "f": (725, 771)}
for p in PANELS:
    x, y = LETTER_POS[p]
    fig.text(x / W, 1 - y / H, p, fontsize=16, fontweight="bold", ha="left",
             va="top", color="#111111")

fig.savefig("out.png", dpi=100, facecolor="white")
